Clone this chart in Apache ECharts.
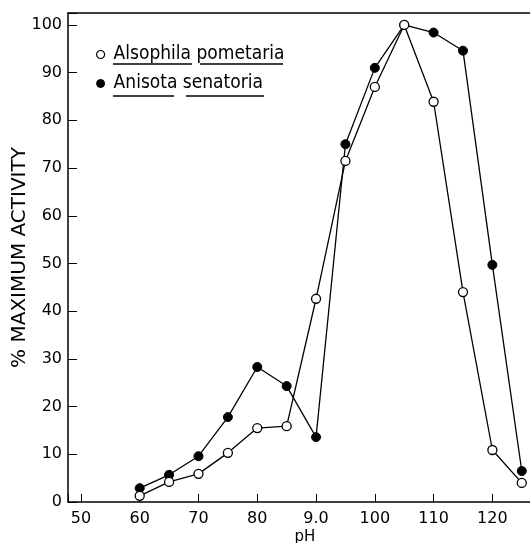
<!DOCTYPE html>
<html><head><meta charset="utf-8">
<script src="https://cdn.jsdelivr.net/npm/echarts@6/dist/echarts.min.js"></script>
<style>html,body{margin:0;padding:0;background:#fff}#c{width:530px;height:543px}</style>
</head><body><div id="c"></div>
<script>
const pH = [6.0, 6.5, 7.0, 7.5, 8.0, 8.5, 9.0, 9.5, 10.0, 10.5, 11.0, 11.5, 12.0, 12.5];
const alsophila = [1.3, 4.2, 5.9, 10.3, 15.5, 15.9, 42.6, 71.5, 87, 100, 83.9, 44, 10.9, 4];
const anisota = [2.9, 5.7, 9.6, 17.8, 28.3, 24.3, 13.6, 75, 91, 100, 98.4, 94.6, 49.7, 6.5];
const xTickLabels = {5: '50', 6: '60', 7: '70', 8: '80', 9: '9.0', 10: '100', 11: '110', 12: '120'};
const seriesNames = ['Alsophila pometaria', 'Anisota senatoria'];

const chart = echarts.init(document.getElementById('c'), null, {renderer: 'canvas'});
const font = 'DejaVu Sans';
const lineStyle = {color: '#000', width: 1.3};
const ul = (x1, x2, y) => ({type: 'line', shape: {x1: x1, y1: y, x2: x2, y2: y}, style: {stroke: '#000', lineWidth: 1.5}});
chart.setOption({
  animation: false,
  backgroundColor: '#fff',
  grid: {left: 68, right: 0, top: 13, bottom: 41, outerBoundsMode: 'none', containLabel: false},
  legend: {
    orient: 'vertical', left: 91, top: 40, itemGap: 10,
    itemWidth: 8, itemHeight: 8,
    textStyle: {fontFamily: 'DejaVu Sans Condensed', fontSize: 19, color: '#000', padding: [0, 0, 0, 4]},
    data: [
      {name: seriesNames[0], icon: 'circle', itemStyle: {color: '#fff', borderColor: '#000', borderWidth: 1.2}},
      {name: seriesNames[1], icon: 'circle', itemStyle: {color: '#000', borderColor: '#000', borderWidth: 1}}
    ]
  },
  graphic: [ul(113, 192, 64), ul(200, 283, 64), ul(113, 174, 96), ul(186, 264, 96)],
  xAxis: [{
    type: 'value', min: 4.78, max: 12.64, splitNumber: 8,
    name: 'pH', nameLocation: 'middle', nameGap: 28, nameMoveOverlap: false,
    nameTextStyle: {fontFamily: font, fontSize: 15, color: '#000', padding: [0, 0, 0, 12]},
    axisLine: {lineStyle: {color: '#000', width: 1.5}},
    axisTick: {inside: true, length: 8, lineStyle: {color: '#000'}},
    axisLabel: {fontFamily: font, fontSize: 16, color: '#000', margin: 9,
      formatter: v => xTickLabels[Math.round(v)] && Math.abs(v - Math.round(v)) < 1e-6 ? xTickLabels[Math.round(v)] : ''},
    splitLine: {show: false}
  }, {
    type: 'value', position: 'top', min: 4.78, max: 12.64,
    axisLine: {lineStyle: {color: '#000', width: 1.5}},
    axisTick: {show: false}, axisLabel: {show: false}, splitLine: {show: false}
  }],
  yAxis: {
    type: 'value', min: 0, max: 102.5, interval: 10,
    name: '% MAXIMUM ACTIVITY', nameLocation: 'middle', nameGap: 38, nameMoveOverlap: false,
    nameTextStyle: {fontFamily: font, fontSize: 20, color: '#000'},
    axisLine: {show: true, lineStyle: {color: '#000', width: 1.5}},
    axisTick: {inside: true, length: 9, lineStyle: {color: '#000'}},
    axisLabel: {fontFamily: font, fontSize: 16, color: '#000', margin: 6,
      formatter: v => (Math.abs(v % 10) < 1e-6 ? String(v) : '')},
    splitLine: {show: false}
  },
  series: [{
    name: seriesNames[0], type: 'line', data: pH.map((x, i) => [x, alsophila[i]]),
    symbol: 'circle', symbolSize: 9, lineStyle: lineStyle,
    itemStyle: {color: '#fff', borderColor: '#000', borderWidth: 1.3}, z: 3
  }, {
    name: seriesNames[1], type: 'line', data: pH.map((x, i) => [x, anisota[i]]),
    symbol: 'circle', symbolSize: 9, lineStyle: lineStyle,
    itemStyle: {color: '#000', borderColor: '#000', borderWidth: 1}, z: 2
  }]
});
</script></body></html>
